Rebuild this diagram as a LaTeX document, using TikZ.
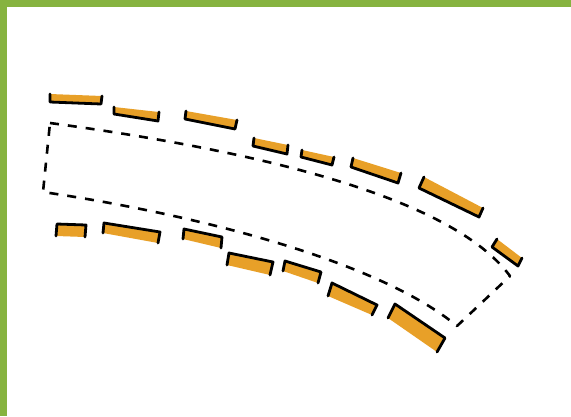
\documentclass[tikz,border=0pt]{standalone}
\begin{document}
\begin{tikzpicture}[x=1pt,y=-1pt,line join=round,
  orng/.style={fill={rgb,255:red,232;green,160;blue,40}},
  edge/.style={draw=black,line width=2.8pt,line cap=round},
  road/.style={draw=black,line width=2.6pt,dash pattern=on 9pt off 9pt}]
\useasboundingbox (0,0) rectangle (571,416);
\fill[white] (0,0) rectangle (571,416);
\definecolor{grn}{RGB}{134,179,64}
\fill[grn] (0,0) rectangle (571,7);
\fill[grn] (0,0) rectangle (6.5,416);
% top blocks: TL TR BR BL, black on inner (bottom) side
\newcommand\tblk[4]{\fill[orng] #1--#2--#3--#4--cycle; \draw[edge] #1--#4--#3--#2;}
\newcommand\bblk[4]{\fill[orng] #1--#2--#3--#4--cycle; \draw[edge] #4--#1--#2--#3;}
\tblk{(50,94)}{(102,96)}{(101,104)}{(50,102)}
\tblk{(114,107)}{(159,112)}{(158,121)}{(114,114)}
\tblk{(186,111)}{(237,120)}{(235,129)}{(185,119)}
\tblk{(254,138)}{(288,145)}{(287,154)}{(253,146)}
\tblk{(302,150)}{(334,157)}{(332,165)}{(301,157)}
\tblk{(353,158)}{(401,173)}{(398,183)}{(351,167)}
\tblk{(424,177)}{(483,208)}{(479,217)}{(419,188)}
\tblk{(497,239)}{(522,258)}{(518,266)}{(492,247)}
% bottom blocks
\bblk{(57,224)}{(86,225)}{(85,237)}{(56,236)}
\bblk{(104,223)}{(160,232)}{(158,243)}{(103,233)}
\bblk{(184,229)}{(222,237)}{(221,248)}{(183,239)}
\bblk{(229,253)}{(273,262)}{(270,275)}{(227,265)}
\bblk{(285,261)}{(321,272)}{(318,283)}{(283,271)}
\bblk{(332,283)}{(377,305)}{(372,315)}{(328,296)}
\bblk{(395,304)}{(445,338)}{(437,352)}{(388,318)}
% dashed road outline
\draw[road] (50,123) .. controls (250,150) and (450,195) .. (510,276)
  -- (457,326)
  .. controls (380,262) and (200,215) .. (43,192)
  -- (50,123);
\end{tikzpicture}
\end{document}
